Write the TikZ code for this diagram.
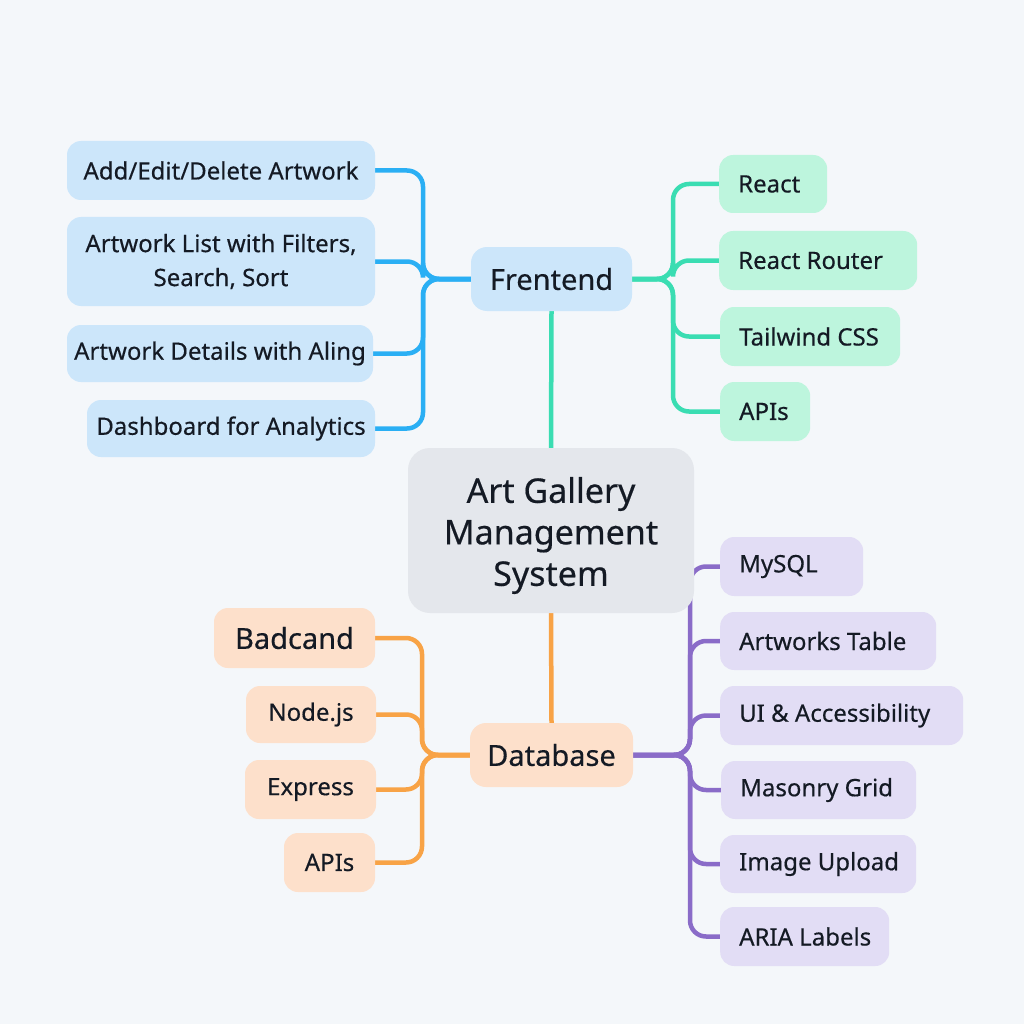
\documentclass[tikz,border=0pt]{standalone}
\usepackage{fontspec}
\setmainfont{Noto Sans}[FakeBold=0.4]
\pgfdeclarelayer{bg}
\pgfdeclarelayer{edges}
\pgfsetlayers{bg,edges,main}
\definecolor{bgc}{HTML}{F4F7FA}
\definecolor{ink}{HTML}{141A24}
\definecolor{bfill}{HTML}{CCE6FA}
\definecolor{bline}{HTML}{2AAFF4}
\definecolor{gfill}{HTML}{BDF5DD}
\definecolor{gline}{HTML}{3ADDB2}
\definecolor{ofill}{HTML}{FDE0CB}
\definecolor{oline}{HTML}{F8A346}
\definecolor{pfill}{HTML}{E2DDF5}
\definecolor{pline}{HTML}{8A6CC8}
\definecolor{cfill}{HTML}{E4E7EC}
\newcommand\lbox[2]{\makebox[#1][l]{#2}}
\begin{document}
\begin{tikzpicture}[x=1pt,y=-1pt,
  box/.style={rounded corners=14pt, inner sep=0pt, text=ink,
    font=\fontsize{24}{34}\selectfont, minimum height=58pt},
  bbox/.style={box, fill=bfill},
  gbox/.style={box, fill=gfill, anchor=west, inner xsep=19pt},
  obox/.style={box, fill=ofill},
  pbox/.style={box, fill=pfill, anchor=west, inner xsep=19pt},
  parent/.style={box, rounded corners=16pt, minimum height=64pt,
    font=\fontsize{29}{34}\selectfont},
  conn/.style={line width=4.5pt, rounded corners=16pt}
]
\begin{pgfonlayer}{bg}
  \fill[bgc] (0,0) rectangle (1024,1024);
\end{pgfonlayer}

% central and parents
\node[box, fill=cfill, rounded corners=22pt, minimum width=286pt, minimum height=165pt] (C) at (551,530.5) {};
\node[text=ink, inner sep=0pt, align=center, font=\fontsize{34}{41.5}\selectfont] (Ct) at (551,535.5)
  {Art Gallery\\Management\\System};
\node[parent, fill=bfill, minimum width=161pt] (F) at (551.5,279) {Frentend};
\node[parent, fill=ofill, minimum width=163pt] (D) at (551.5,755) {Database};

% blue children
\node[bbox, minimum width=308pt, minimum height=59pt] (b1) at (221,170.5) {Add/Edit/Delete Artwork};
\node[bbox, minimum width=308pt, minimum height=89pt, align=center] (b2) at (221,261.5) {Artwork List with Filters,\\Search, Sort};
\node[bbox, minimum width=306pt, minimum height=57pt] (b3) at (220,353.5) {Artwork Details with Aling};
\node[bbox, minimum width=288pt, minimum height=57pt] (b4) at (231,428.5) {Dashboard for Analytics};

% green children
\node[gbox] (g1) at (719,184) {\lbox{70pt}{React}};
\node[gbox, minimum height=59pt] (g2) at (719,260.5) {\lbox{160pt}{React Router}};
\node[gbox, minimum height=59pt] (g3) at (720,336.5) {\lbox{142pt}{Tailwind CSS}};
\node[gbox, minimum height=59pt] (g4) at (720,411.5) {\lbox{52pt}{APIs}};

% orange children
\node[obox, minimum width=161pt, minimum height=60pt, font=\fontsize{29}{34}\selectfont] (o1) at (294.5,638) {Badcand};
\node[obox, minimum width=130pt, minimum height=57pt] (o2) at (311,714.5) {Node.js};
\node[obox, minimum width=131pt, minimum height=59pt] (o3) at (310.5,789.5) {Express};
\node[obox, minimum width=91pt, minimum height=59pt] (o4) at (329.5,862.5) {APIs};

% purple children
\node[pbox, minimum height=59pt] (p1) at (720,566.5) {\lbox{105pt}{MySQL}};
\node[pbox] (p2) at (720,641) {\lbox{178pt}{Artworks Table}};
\node[pbox, minimum height=59pt] (p3) at (720,715.5) {\lbox{205pt}{UI \& Accessibility}};
\node[pbox] (p4) at (721,790) {\lbox{157pt}{Masonry Grid}};
\node[pbox] (p5) at (720,864) {\lbox{158pt}{Image Upload}};
\node[pbox, minimum height=59pt] (p6) at (720,936.5) {\lbox{131pt}{ARIA Labels}};

\coordinate (jB) at (423,279);
\coordinate (jG) at (673,279);
\coordinate (jO) at (422,755);
\coordinate (jP) at (690,755);

\begin{pgfonlayer}{edges}
  \draw[conn, gline] (F.south) -- (C.north);
  \draw[conn, oline] (C.south) -- (D.north);
  \foreach \n in {b1,b2,b3,b4}
    \draw[conn, bline] (\n.east) -| (jB) -- (F.west);
  \foreach \n in {g1,g2,g3,g4}
    \draw[conn, gline] (\n.west) -| (jG) -- (F.east);
  \foreach \n in {o1,o2,o3,o4}
    \draw[conn, oline] (\n.east) -| (jO) -- (D.west);
  \foreach \n in {p1,p2,p3,p4,p5,p6}
    \draw[conn, pline] (\n.west) -| (jP) -- (D.east);
\end{pgfonlayer}
\end{tikzpicture}
\end{document}
